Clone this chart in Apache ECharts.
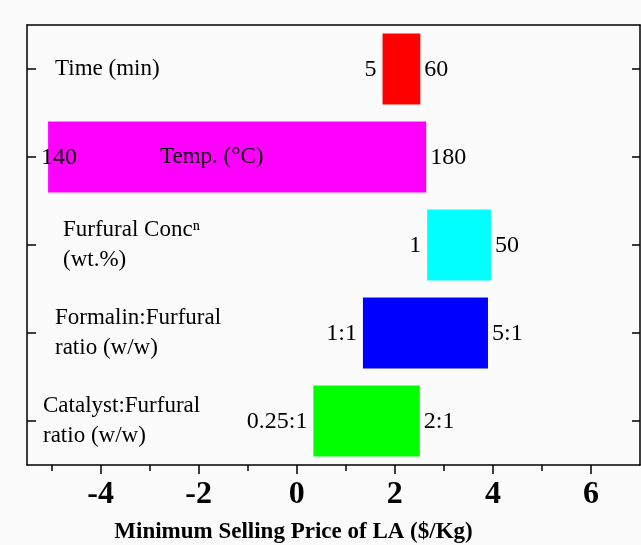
<!DOCTYPE html>
<html>
<head>
<meta charset="utf-8">
<script src="https://cdn.jsdelivr.net/npm/echarts@6/dist/echarts.min.js"></script>
<style>
  html, body { margin: 0; padding: 0; background: #fbfbfb; }
  #chart { width: 641px; height: 545px; }
</style>
</head>
<body>
<div id="chart"></div>
<script>
// Sensitivity of the minimum selling price of LA to each process parameter
const categories = [
  'Time (min)',
  'Temp. (°C)',
  'Furfural Concⁿ\n(wt.%)',
  'Formalin:Furfural\nratio (w/w)',
  'Catalyst:Furfural\nratio (w/w)'
];
// MSP ($/Kg) at the low and high end of each parameter range
const lowPrice = [1.75, -5.07, 2.66, 1.35, 0.34];
const highPrice = [2.52, 2.64, 3.96, 3.90, 2.51];
// Parameter values at each end of the range
const lowSetting = ['5', '140', '1', '1:1', '0.25:1'];
const highSetting = ['60', '180', '50', '5:1', '2:1'];
const barColors = ['#ff0000', '#ff00ff', '#00ffff', '#0000ff', '#00ff00'];
const xTickLabels = [-4, -2, 0, 2, 4, 6];
const xMinorTicks = [-5, -3, -1, 1, 3, 5];

// label placement (styling only): indent of each category caption from the left frame
const captionIndent = [28, 133, 36, 28, 16];

const FONT = '"Liberation Serif", "Times New Roman", serif';

const chart = echarts.init(document.getElementById('chart'));

const seriesData = categories.map((c, i) => [i, lowPrice[i], highPrice[i]]);

function renderItem(params, api) {
  const idx = params.dataIndex;
  const cat = api.value(0);
  const lo = api.coord([api.value(1), cat]);
  const hi = api.coord([api.value(2), cat]);
  const band = api.size([0, 1])[1];
  const h = band * 0.806;
  const cs = params.coordSys;
  const children = [
    {
      type: 'rect',
      shape: { x: lo[0], y: lo[1] - h / 2, width: hi[0] - lo[0], height: h },
      style: { fill: barColors[idx] }
    }
  ];
  // low-end setting, pulled inside the frame when the bar reaches the edge
  const nearEdge = lo[0] - cs.x < 60;
  children.push({
    type: 'text',
    x: nearEdge ? cs.x + 14 : lo[0] - 6,
    y: lo[1] + 1,
    style: {
      text: lowSetting[idx], font: '24px ' + FONT, fill: '#000',
      align: nearEdge ? 'left' : 'right', verticalAlign: 'middle'
    },
    z2: 10
  });
  children.push({
    type: 'text',
    x: hi[0] + 4,
    y: hi[1] + 1,
    style: {
      text: highSetting[idx], font: '24px ' + FONT, fill: '#000',
      align: 'left', verticalAlign: 'middle'
    },
    z2: 10
  });
  // category caption
  children.push({
    type: 'text',
    x: cs.x + captionIndent[idx],
    y: lo[1],
    style: {
      text: categories[idx], font: '23px ' + FONT, fill: '#000',
      align: 'left', verticalAlign: 'middle', lineHeight: 30
    },
    z2: 10
  });
  return { type: 'group', children: children };
}

const axisStroke = { color: '#000', width: 1.5 };

const option = {
  backgroundColor: '#fbfbfb',
  animation: false,
  grid: { left: 27, right: 1, top: 25, bottom: 80, outerBoundsMode: 'none' },
  xAxis: [
    {
      type: 'value', position: 'bottom', min: -5.5, max: 7,
      axisLine: { show: true, onZero: false, lineStyle: axisStroke },
      axisTick: { show: true, inside: false, length: 9, customValues: xTickLabels,
        lineStyle: axisStroke },
      axisLabel: { customValues: xTickLabels, margin: 14, color: '#000',
        fontFamily: FONT, fontWeight: 'bold', fontSize: 32 },
      splitLine: { show: false },
      name: 'Minimum Selling Price of LA ($/Kg)',
      nameLocation: 'middle', nameGap: 56,
      nameTextStyle: { color: '#000', fontFamily: FONT, fontWeight: 'bold', fontSize: 23,
        padding: [0, 80, 0, 0] }
    },
    {
      type: 'value', position: 'bottom', min: -5.5, max: 7,
      axisLine: { show: false, onZero: false },
      axisTick: { show: true, inside: false, length: 6, customValues: xMinorTicks,
        lineStyle: axisStroke },
      axisLabel: { show: false },
      splitLine: { show: false }
    },
    {
      type: 'value', position: 'top', min: -5.5, max: 7,
      axisLine: { show: true, onZero: false, lineStyle: axisStroke },
      axisTick: { show: false },
      axisLabel: { show: false },
      splitLine: { show: false }
    }
  ],
  yAxis: [
    {
      type: 'category', data: categories, inverse: true, position: 'left',
      axisLine: { show: true, onZero: false, lineStyle: axisStroke },
      axisTick: { show: true, inside: true, length: 9, alignWithLabel: true,
        lineStyle: axisStroke },
      axisLabel: { show: false },
      splitLine: { show: false }
    },
    {
      type: 'category', data: categories, inverse: true, position: 'right',
      axisLine: { show: true, onZero: false, lineStyle: axisStroke },
      axisTick: { show: true, inside: true, length: 8, alignWithLabel: true,
        lineStyle: axisStroke },
      axisLabel: { show: false },
      splitLine: { show: false }
    }
  ],
  series: [
    {
      type: 'custom',
      xAxisIndex: 0,
      yAxisIndex: 0,
      renderItem: renderItem,
      encode: { x: [1, 2], y: 0 },
      clip: false,
      data: seriesData
    }
  ]
};

chart.setOption(option);
</script>
</body>
</html>
